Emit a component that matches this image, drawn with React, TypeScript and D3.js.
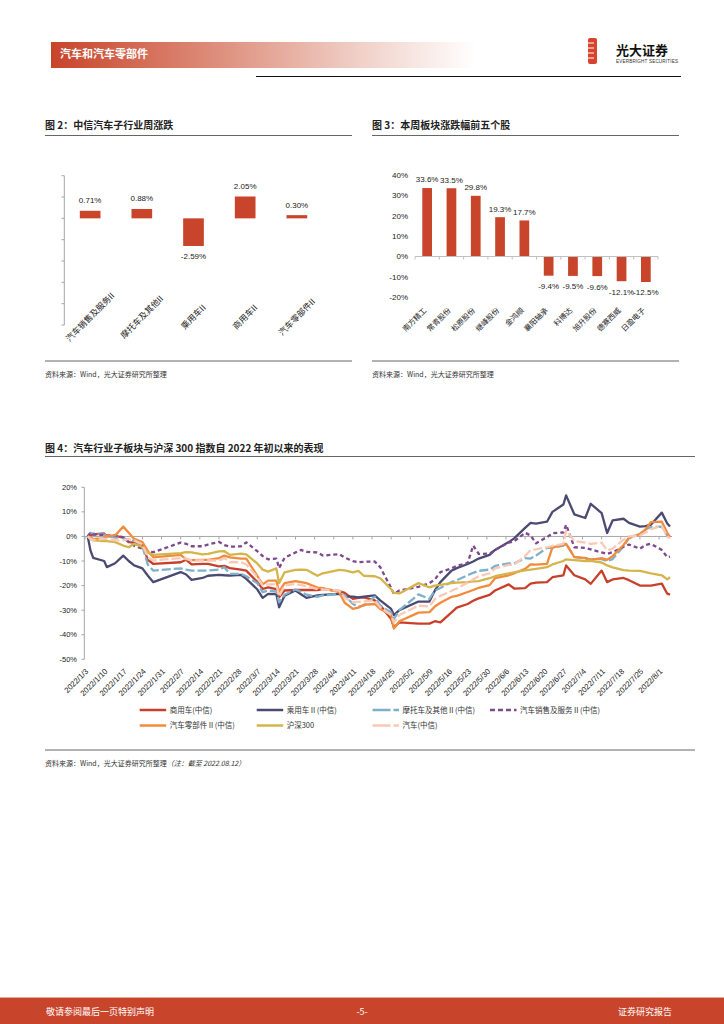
import * as d3 from 'd3';

const CJK = '"Noto Sans CJK SC", "Noto Sans", sans-serif';
const NUM = '"Liberation Sans", Arial, sans-serif';
const RED = '#C8442A';
const AXIS = '#A6A6A6';
const INK = '#222';

// 图2：中信汽车子行业周涨跌
const subIndustries = ['汽车销售及服务II', '摩托车及其他II', '乘用车II', '商用车II', '汽车零部件II'];
const subWeekly = [0.71, 0.88, -2.59, 2.05, 0.3];
const subTicks = [-10, -8, -6, -4, -2, 0, 2, 4];

// 图3：本周板块涨跌幅前五个股
const topStocks = ['南方精工', '常青股份', '松原股份', '继峰股份', '金鸿顺', '襄阳轴承', '科博达', '旭升股份', '德赛西威', '日盈电子'];
const topChanges = [33.6, 33.5, 29.8, 19.3, 17.7, -9.4, -9.5, -9.6, -12.1, -12.5];
const stockTicks = [-20, -10, 0, 10, 20, 30, 40];

// 图4：汽车行业子板块与沪深300（累计涨跌幅，%）
const tradeDates = [
  '2022-01-04', '2022-01-05', '2022-01-06', '2022-01-10', '2022-01-11', '2022-01-14', '2022-01-17', '2022-01-19',
  '2022-01-21', '2022-01-24', '2022-01-26', '2022-01-28', '2022-02-07', '2022-02-09', '2022-02-11', '2022-02-15',
  '2022-02-17', '2022-02-21', '2022-02-23', '2022-02-25', '2022-03-01', '2022-03-03', '2022-03-07', '2022-03-09',
  '2022-03-11', '2022-03-14', '2022-03-15', '2022-03-17', '2022-03-21', '2022-03-23', '2022-03-25', '2022-03-29',
  '2022-03-31', '2022-04-06', '2022-04-08', '2022-04-11', '2022-04-13', '2022-04-15', '2022-04-19', '2022-04-21',
  '2022-04-25', '2022-04-26', '2022-04-28', '2022-05-05', '2022-05-09', '2022-05-11', '2022-05-13', '2022-05-17',
  '2022-05-19', '2022-05-23', '2022-05-25', '2022-05-27', '2022-05-31', '2022-06-02', '2022-06-07', '2022-06-09',
  '2022-06-13', '2022-06-15', '2022-06-17', '2022-06-21', '2022-06-23', '2022-06-27', '2022-06-28', '2022-07-01',
  '2022-07-05', '2022-07-07', '2022-07-11', '2022-07-13', '2022-07-15', '2022-07-19', '2022-07-21', '2022-07-25',
  '2022-07-27', '2022-07-29', '2022-08-02', '2022-08-04', '2022-08-05',
];
const shangyongche = [
  0, 0.5, 0.8, 1.2, 0, 0.2, -0.5, -2.3, -2.5, -3.5, -9.5, -11.2, -10.5, -9.5, -11.4, -11.2,
  -11.2, -12.2, -12, -12.9, -13.5, -13.9, -18.5, -21.4, -20.7, -21.4, -24.8, -22, -21.8, -21.8, -21.8, -21.8,
  -21.4, -22.2, -23, -25.4, -25, -24.8, -26, -28, -33.6, -37, -35, -35.5, -35.5, -34.5, -35, -31,
  -29, -27.5, -26.2, -25.2, -23.8, -22, -19.5, -21.2, -21, -19.2, -18.8, -18.6, -16.6, -15.8, -11.8, -15.8,
  -17.5, -19.3, -13.9, -18.6, -17.5, -16.9, -17.8, -20, -20, -20, -19.2, -23.3, -23.7,
];
const chengyongche = [
  0, -5.7, -8.7, -10, -12.5, -10.9, -7.8, -10, -11.8, -13, -16, -18.6, -14.5, -15.5, -17.7, -16.9,
  -16, -15.6, -15.8, -15.9, -15.6, -17.3, -21.5, -25, -23.4, -23.5, -28.8, -24.1, -22, -23.5, -25, -24,
  -23.8, -23.4, -24.5, -24.5, -24.8, -24.5, -24, -26, -29.5, -32, -30, -26.5, -26.5, -22, -18.6, -14,
  -12.9, -11.2, -10.2, -9, -7.5, -5.5, -2.3, -0.8, 3.5, 5.5, 5.2, 6, 10, 13, 16.7, 9,
  7.5, 13.3, 9.5, 1.4, 6.5, 7.2, 5.5, 4, 4.2, 4.8, 9.7, 5.3, 4,
];
const motuoche = [
  0, 1.5, 1.2, 0.8, 0.3, -0.5, -0.5, -2, -1.6, -4, -11.5, -13.9, -13, -13.5, -13.9, -13.9,
  -13.9, -13.5, -12.5, -15.2, -15.2, -16.2, -19, -22.7, -22, -22.5, -26.8, -23.7, -21.6, -22.5, -23.7, -24.6,
  -24, -23.4, -24, -27.5, -28.6, -28.2, -24.5, -28.2, -30.9, -33.6, -30, -23.6, -25.4, -22, -21, -18.6,
  -17.8, -15.8, -14.8, -14, -13.5, -12, -11, -11, -8.8, -9, -7.8, -4.6, -4.6, -3.7, -3, -8.3,
  -9, -9.3, -9.2, -10, -9.2, -4, -0.7, 1, 2.8, 3.8, 4, 0.4, -0.2,
];
const xiaoshou = [
  0, 1.5, 0.8, 0.6, 0.4, 0.4, -0.3, -2.2, -3.8, -5, -6, -6.4, -2.5, -3, -4, -4,
  -3.3, -2.2, -3.5, -4.2, -4, -2.4, -6, -8, -9.3, -9, -12.9, -8.7, -6.5, -5.5, -6.3, -6.5,
  -7.8, -7.2, -8.6, -10, -10.5, -10.3, -10.2, -12.5, -21, -23.4, -22, -20.5, -19, -17.5, -14.5, -13,
  -12, -10.8, -3.7, -7.1, -7, -5.5, -2.5, -2, 1.5, 0.4, -2.8, -0.3, 1.3, 1.6, 4.8, -4.4,
  -4.7, -5.3, -6.5, -7.1, -6.4, -4.2, -3.3, -5, -3.5, -3, -5.5, -8.4, -8.2,
];
const lingbujian = [
  0, -0.5, -1, -0.8, 0.2, 0.4, 4, 1.5, -1, -2.3, -6, -8.5, -7.5, -9.3, -9.6, -9.5,
  -9.5, -8.8, -7.8, -8.5, -9, -9, -16, -19.5, -18, -18, -22.5, -19, -18.2, -18.6, -19, -20.8,
  -21, -22.7, -27, -29.5, -29, -27.8, -27.5, -29.5, -32, -37.5, -34.5, -31, -30.8, -28.5, -27, -24.6,
  -24.2, -22.6, -21.8, -20.9, -19.8, -17, -15.8, -15, -13.2, -11.4, -11.5, -11.2, -4.4, -3.5, -3, -8.4,
  -8.7, -9.5, -8.8, -9.5, -8, -3.5, -0.5, 1, 2.8, 5.8, 6, 1.5, -0.3,
];
const hushen300 = [
  0, -1, -1.6, -1.9, -1.9, -2.3, -3.7, -4.4, -3, -4.3, -6.6, -7.5, -6.8, -6.4, -6.5, -7.3,
  -7.1, -6.1, -6, -7.5, -7, -7.3, -11, -13.5, -14.3, -13, -19, -14.6, -13.6, -13.5, -13.6, -16,
  -15, -13.6, -13.8, -14.6, -14, -16, -16.2, -17, -21.5, -23, -23.2, -19, -20.7, -20, -19.7, -19,
  -18.8, -18.6, -18.3, -18.2, -17, -16.2, -15, -14.6, -13.8, -13.5, -13.2, -12.5, -11.4, -10, -9.3, -9.6,
  -10, -9.9, -10.6, -11.8, -12.6, -13.7, -13.9, -14, -14.5, -15, -15.8, -17.5, -16.6,
];
const qiche = [
  0, -1, -1.4, -1, -1, -1.6, -1.6, -1, -1.6, -3.2, -8.6, -9.8, -8.8, -9, -9.8, -9.8,
  -9.8, -9.8, -8.8, -10.5, -10.5, -11.4, -16.5, -20, -19.5, -19.5, -24.5, -20, -19.3, -19.8, -20.3, -21.4,
  -21.6, -22, -25, -26.8, -26.6, -26.4, -26.1, -28.8, -32, -35, -32, -28.2, -28.5, -25.5, -24.2, -22.2,
  -21.2, -18.8, -17.5, -16.2, -15, -13, -11.6, -11.5, -8, -5.5, -5.3, -4.4, -3.8, -3, 2.4, -1.9,
  -2.5, -3, -2.5, -5.7, -5, -1.3, 0, 0.4, 1.6, 3, 4.3, 0, -0.8,
];
const perfTicks = [-50, -40, -30, -20, -10, 0, 10, 20];

const parseDate = d3.timeParse('%Y-%m-%d');
const fmtPct = (v: number) => `${v.toFixed(1)}%`;

const lineSeries = [
  { name: '商用车(中信)', values: shangyongche, color: '#C8402A', dash: '' },
  { name: '乘用车Ⅱ(中信)', values: chengyongche, color: '#4B4A72', dash: '' },
  { name: '摩托车及其他Ⅱ(中信)', values: motuoche, color: '#7DB0CB', dash: '9,3' },
  { name: '汽车销售及服务Ⅱ(中信)', values: xiaoshou, color: '#7D4A8D', dash: '4,3' },
  { name: '汽车零部件Ⅱ(中信)', values: lingbujian, color: '#F28B3B', dash: '' },
  { name: '沪深300', values: hushen300, color: '#D5B54B', dash: '' },
  { name: '汽车(中信)', values: qiche, color: '#FAC9B6', dash: '9,3' },
];

function Header() {
  return (
    <g>
      <defs>
        <linearGradient id="hdr" x1="0" x2="1" y1="0" y2="0">
          <stop offset="0" stopColor="#C8442A" />
          <stop offset="0.4" stopColor="#DE907E" />
          <stop offset="0.72" stopColor="#F0CFC6" />
          <stop offset="1" stopColor="#FFFFFF" />
        </linearGradient>
      </defs>
      <rect x={51} y={42} width={425} height={26} fill="url(#hdr)" />
      <text x={60} y={58} fill="#fff" fontFamily={CJK} fontSize={11} fontWeight={700}>汽车和汽车零部件</text>
      <line x1={256} x2={681} y1={76.5} y2={76.5} stroke="#111" strokeWidth={1.2} />
      <rect x={588} y={38} width={9} height={26} rx={2} fill="#D9432E" />
      {[43, 48, 53, 58].map(s => (
        <line key={s} x1={588} x2={594} y1={s} y2={s} stroke="#fff" strokeWidth={1} />
      ))}
      <text x={616} y={55} fontFamily={CJK} fontSize={13} fontWeight={700} fill="#111">光大证券</text>
      <text x={616} y={62.5} fontFamily={NUM} fontSize={4.6} fill="#333" textLength={62}>EVERBRIGHT SECURITIES</text>
    </g>
  );
}

function Footer() {
  return (
    <g>
      <rect x={0} y={997} width={724} height={1} fill="#E9A898" />
      <rect x={0} y={998} width={724} height={26} fill={RED} />
      <text x={46} y={1015} fill="#fff" fontFamily={CJK} fontSize={9}>敬请参阅最后一页特别声明</text>
      <text x={362} y={1015} fill="#fff" fontFamily={CJK} fontSize={9} textAnchor="middle">-5-</text>
      <text x={672} y={1015} fill="#fff" fontFamily={CJK} fontSize={9} textAnchor="end">证券研究报告</text>
    </g>
  );
}

function Frame({ x, w, title, titleY, lineY, bottomY }: { x: number; w: number; title: string; titleY: number; lineY: number; bottomY: number }) {
  return (
    <g>
      <text x={x} y={titleY} fontFamily={CJK} fontSize={10} fontWeight={700} fill="#222">{title}</text>
      <line x1={x} x2={x + w} y1={lineY} y2={lineY} stroke="#666" strokeWidth={1.2} />
      <line x1={x} x2={x + w} y1={bottomY} y2={bottomY} stroke="#666" strokeWidth={1} />
    </g>
  );
}

function SubIndustryChart() {
  const x = d3.scaleBand<string>().domain(subIndustries).range([64.3, 322.7]).paddingInner(0.6).paddingOuter(0.3);
  const y = d3.scaleLinear().domain([-10, 4]).range([325, 175.7]);
  const bw = x.bandwidth();
  return (
    <g>
      <Frame x={45} w={307} title="图 2：中信汽车子行业周涨跌" titleY={129} lineY={135.5} bottomY={361} />
      <line x1={64.3} x2={64.3} y1={y(4)} y2={y(-10)} stroke={AXIS} />
      {subTicks.map(t => (
        <line key={t} x1={61.5} x2={64.3} y1={y(t)} y2={y(t)} stroke={AXIS} />
      ))}
      {subIndustries.map((c, i) => {
        const v = subWeekly[i];
        const x0 = x(c)!;
        const top = Math.min(y(v), y(0));
        const bottom = Math.max(y(v), y(0));
        return (
          <g key={c}>
            <rect x={x0} y={top} width={bw} height={bottom - top} fill={RED} />
            <text x={x0 + bw / 2} y={v >= 0 ? top - 7.5 : bottom + 13} textAnchor="middle"
              fontFamily={NUM} fontSize={8} fill={INK}>{`${v.toFixed(2)}%`}</text>
            <text transform={`translate(${x0 + bw / 2},317) rotate(-45)`} textAnchor="middle" dy="0.35em"
              fontFamily={CJK} fontSize={8.5} fill={INK}>{c}</text>
          </g>
        );
      })}
      <text x={45} y={376.5} fontFamily={CJK} fontSize={7} fill="#333">资料来源：Wind，光大证券研究所整理</text>
    </g>
  );
}

function TopStocksChart() {
  const x = d3.scaleBand<string>().domain(topStocks).range([415, 658]).paddingInner(0.6).paddingOuter(0.3);
  const y = d3.scaleLinear().domain([-20, 40]).range([297.3, 175]);
  const bw = x.bandwidth();
  const step = x.step();
  return (
    <g>
      <Frame x={372} w={307} title="图 3：本周板块涨跌幅前五个股" titleY={129} lineY={135.5} bottomY={361} />
      {stockTicks.map(t => (
        <text key={t} x={408} y={y(t)} dy="0.35em" textAnchor="end" fontFamily={NUM} fontSize={8} fill={INK}>{`${t}%`}</text>
      ))}
      {topStocks.map((s, i) => {
        const v = topChanges[i];
        const x0 = x(s)!;
        const top = Math.min(y(v), y(0));
        const bottom = Math.max(y(v), y(0));
        const cx = x0 + bw / 2;
        return (
          <g key={s}>
            <rect x={x0} y={top} width={bw} height={bottom - top} fill={RED} />
            <text x={cx} y={v >= 0 ? top - 5.6 : bottom + 13.4} textAnchor="middle"
              fontFamily={NUM} fontSize={8} fill={INK}>{fmtPct(v)}</text>
            <text transform={`translate(${cx - 2},309) rotate(-45)`} textAnchor="end" dy="0.35em"
              fontFamily={CJK} fontSize={7.5} fill={INK}>{s}</text>
          </g>
        );
      })}
      <line x1={415} x2={658} y1={y(0)} y2={y(0)} stroke="#BFBFBF" />
      {d3.range(topStocks.length + 1).map(i => (
        <line key={i} x1={415 + i * step} x2={415 + i * step} y1={y(0)} y2={y(0) + 3} stroke="#BFBFBF" />
      ))}
      <text x={372} y={376.5} fontFamily={CJK} fontSize={7} fill="#333">资料来源：Wind，光大证券研究所整理</text>
    </g>
  );
}

function PerformanceChart() {
  const dates = tradeDates.map(d => parseDate(d)!);
  const x = d3.scaleTime().domain([parseDate('2022-01-03')!, parseDate('2022-08-05')!]).range([85, 670]);
  const y = d3.scaleLinear().domain([-50, 20]).range([659.3, 487.3]);
  const weeks = d3.timeMonday.range(parseDate('2022-01-03')!, parseDate('2022-08-02')!);
  const fmt = (d: Date) => `${d.getFullYear()}/${d.getMonth() + 1}/${d.getDate()}`;
  const line = d3.line<number>().x((_, i) => x(dates[i])).y(v => y(v));
  const legendCols = [139.7, 256.7, 372.5, 490];
  const legendRows = [710, 725.5];
  return (
    <g>
      <Frame x={45} w={650} title="图 4：汽车行业子板块与沪深 300 指数自 2022 年初以来的表现" titleY={452} lineY={456.5} bottomY={750} />
      <line x1={84.3} x2={84.3} y1={y(20)} y2={y(-50)} stroke={AXIS} />
      {perfTicks.map(t => (
        <g key={t}>
          <line x1={81.5} x2={84.3} y1={y(t)} y2={y(t)} stroke={AXIS} />
          <text x={77} y={y(t)} dy="0.35em" textAnchor="end" fontFamily={NUM} fontSize={7.5} fill={INK}>{`${t}%`}</text>
        </g>
      ))}
      <line x1={84.3} x2={672} y1={y(0)} y2={y(0)} stroke={AXIS} />
      {weeks.map(w => (
        <g key={w.getTime()}>
          <line x1={x(w)} x2={x(w)} y1={y(0)} y2={y(0) + 3} stroke={AXIS} />
          <text transform={`translate(${x(w) + 2},670) rotate(-45)`} textAnchor="end" dy="0.35em"
            fontFamily={NUM} fontSize={7.8} fill={INK}>{fmt(w)}</text>
        </g>
      ))}
      {lineSeries.map(s => (
        <path key={s.name} d={line(s.values) ?? ''} fill="none" stroke={s.color} strokeWidth={2.3}
          strokeDasharray={s.dash || undefined} strokeLinejoin="round" />
      ))}
      {lineSeries.map((s, i) => {
        const lx = legendCols[i < 4 ? i : i - 4];
        const ly = legendRows[i < 4 ? 0 : 1];
        return (
          <g key={s.name}>
            <line x1={lx} x2={lx + 26.5} y1={ly} y2={ly} stroke={s.color} strokeWidth={2.5}
              strokeDasharray={s.dash ? (s.dash === '4,3' ? '5,3' : '18,3') : undefined} />
            <text x={lx + 30} y={ly} dy="0.35em" fontFamily={CJK} fontSize={7.5} fill="#333">{s.name}</text>
          </g>
        );
      })}
      <text x={45} y={765.5} fontFamily={CJK} fontSize={7} fill="#333">
        资料来源：Wind，光大证券研究所整理
        <tspan fontStyle="italic">（注：截至 2022.08.12）</tspan>
      </text>
    </g>
  );
}

export default function App() {
  return (
    <svg width={724} height={1024} viewBox="0 0 724 1024"
      style={{ position: 'absolute', left: 0, top: 0, background: '#fff' }}>
      <rect width={724} height={1024} fill="#fff" />
      <Header />
      <SubIndustryChart />
      <TopStocksChart />
      <PerformanceChart />
      <Footer />
    </svg>
  );
}
